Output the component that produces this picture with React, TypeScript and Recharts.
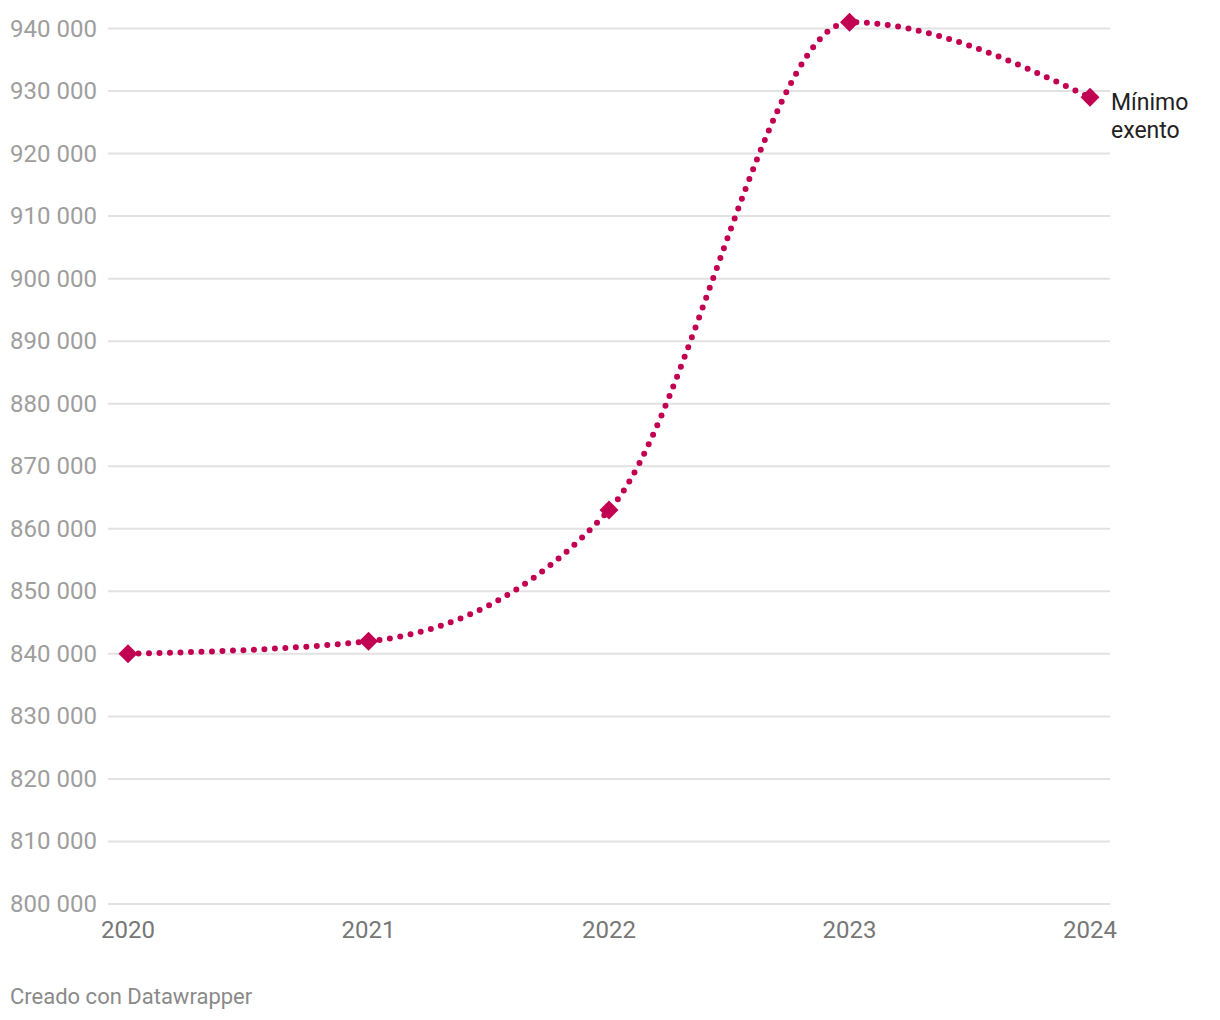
import { LineChart, Line, XAxis, YAxis, CartesianGrid } from 'recharts';

const years = ['2020', '2021', '2022', '2023', '2024'];
const minimoExento = [840000, 842000, 863000, 941000, 929000];
const yTicks = [800000, 810000, 820000, 830000, 840000, 850000, 860000, 870000, 880000, 890000, 900000, 910000, 920000, 930000, 940000];
const seriesLabel = ['Mínimo', 'exento'];
const credit = 'Creado con Datawrapper';

const data = years.map((year, i) => ({ year, value: minimoExento[i] }));

const LINE_COLOR = '#c20052';
const FONT = 'Roboto, sans-serif';

const fmt = (v: number) => {
  const s = String(v);
  return s.slice(0, s.length - 3) + ' ' + s.slice(-3);
};

// y labels sit flush left like datawrapper
const YTick = ({ y, payload }: any) => (
  <text x={10} y={y} dy={8} textAnchor="start" fill="#9e9e9e" fontSize={24} fontFamily={FONT}>
    {fmt(payload.value)}
  </text>
);

const XTick = ({ x, y, payload }: any) => (
  <text x={x} y={y} dy={26} textAnchor="middle" fill="#777" fontSize={24} fontFamily={FONT}>
    {payload.value}
  </text>
);

const Diamond = ({ cx, cy }: any) => {
  if (cx == null || cy == null) return null;
  const r = 9.5;
  return (
    <polygon
      points={`${cx},${cy - r} ${cx + r},${cy} ${cx},${cy + r} ${cx - r},${cy}`}
      fill={LINE_COLOR}
    />
  );
};

const EndLabel = ({ x, y, index }: any) => {
  if (index !== data.length - 1) return null;
  return (
    <text x={x + 21} y={y} fill="#222" fontSize={23} fontFamily={FONT}>
      <tspan x={x + 21} dy={13}>{seriesLabel[0]}</tspan>
      <tspan x={x + 21} dy={28}>{seriesLabel[1]}</tspan>
    </text>
  );
};

export default function App() {
  return (
    <div style={{ position: 'absolute', left: 0, top: 0, width: 1220, height: 1020, background: '#fff', fontFamily: FONT }}>
      <LineChart
        width={1220}
        height={1020}
        data={data}
        margin={{ top: 16, right: 110, left: 10, bottom: 76 }}
      >
        <CartesianGrid vertical={false} stroke="#e2e2e2" strokeWidth={2} syncWithTicks />
        <XAxis
          dataKey="year"
          height={40}
          padding={{ left: 20, right: 20 }}
          axisLine={false}
          tickLine={false}
          tick={<XTick />}
          interval={0}
        />
        <YAxis
          width={98}
          domain={[800000, 942000]}
          ticks={yTicks}
          axisLine={false}
          tickLine={false}
          tick={<YTick />}
          interval={0}
        />
        <Line
          type="monotone"
          dataKey="value"
          stroke={LINE_COLOR}
          strokeWidth={6}
          strokeDasharray="0 10.5"
          strokeLinecap="round"
          dot={<Diamond />}
          activeDot={false}
          label={<EndLabel />}
          isAnimationActive={false}
        />
      </LineChart>
      <div style={{ position: 'absolute', left: 10, top: 984, fontSize: 22, color: '#8a8a8a', fontFamily: FONT }}>
        {credit}
      </div>
    </div>
  );
}
